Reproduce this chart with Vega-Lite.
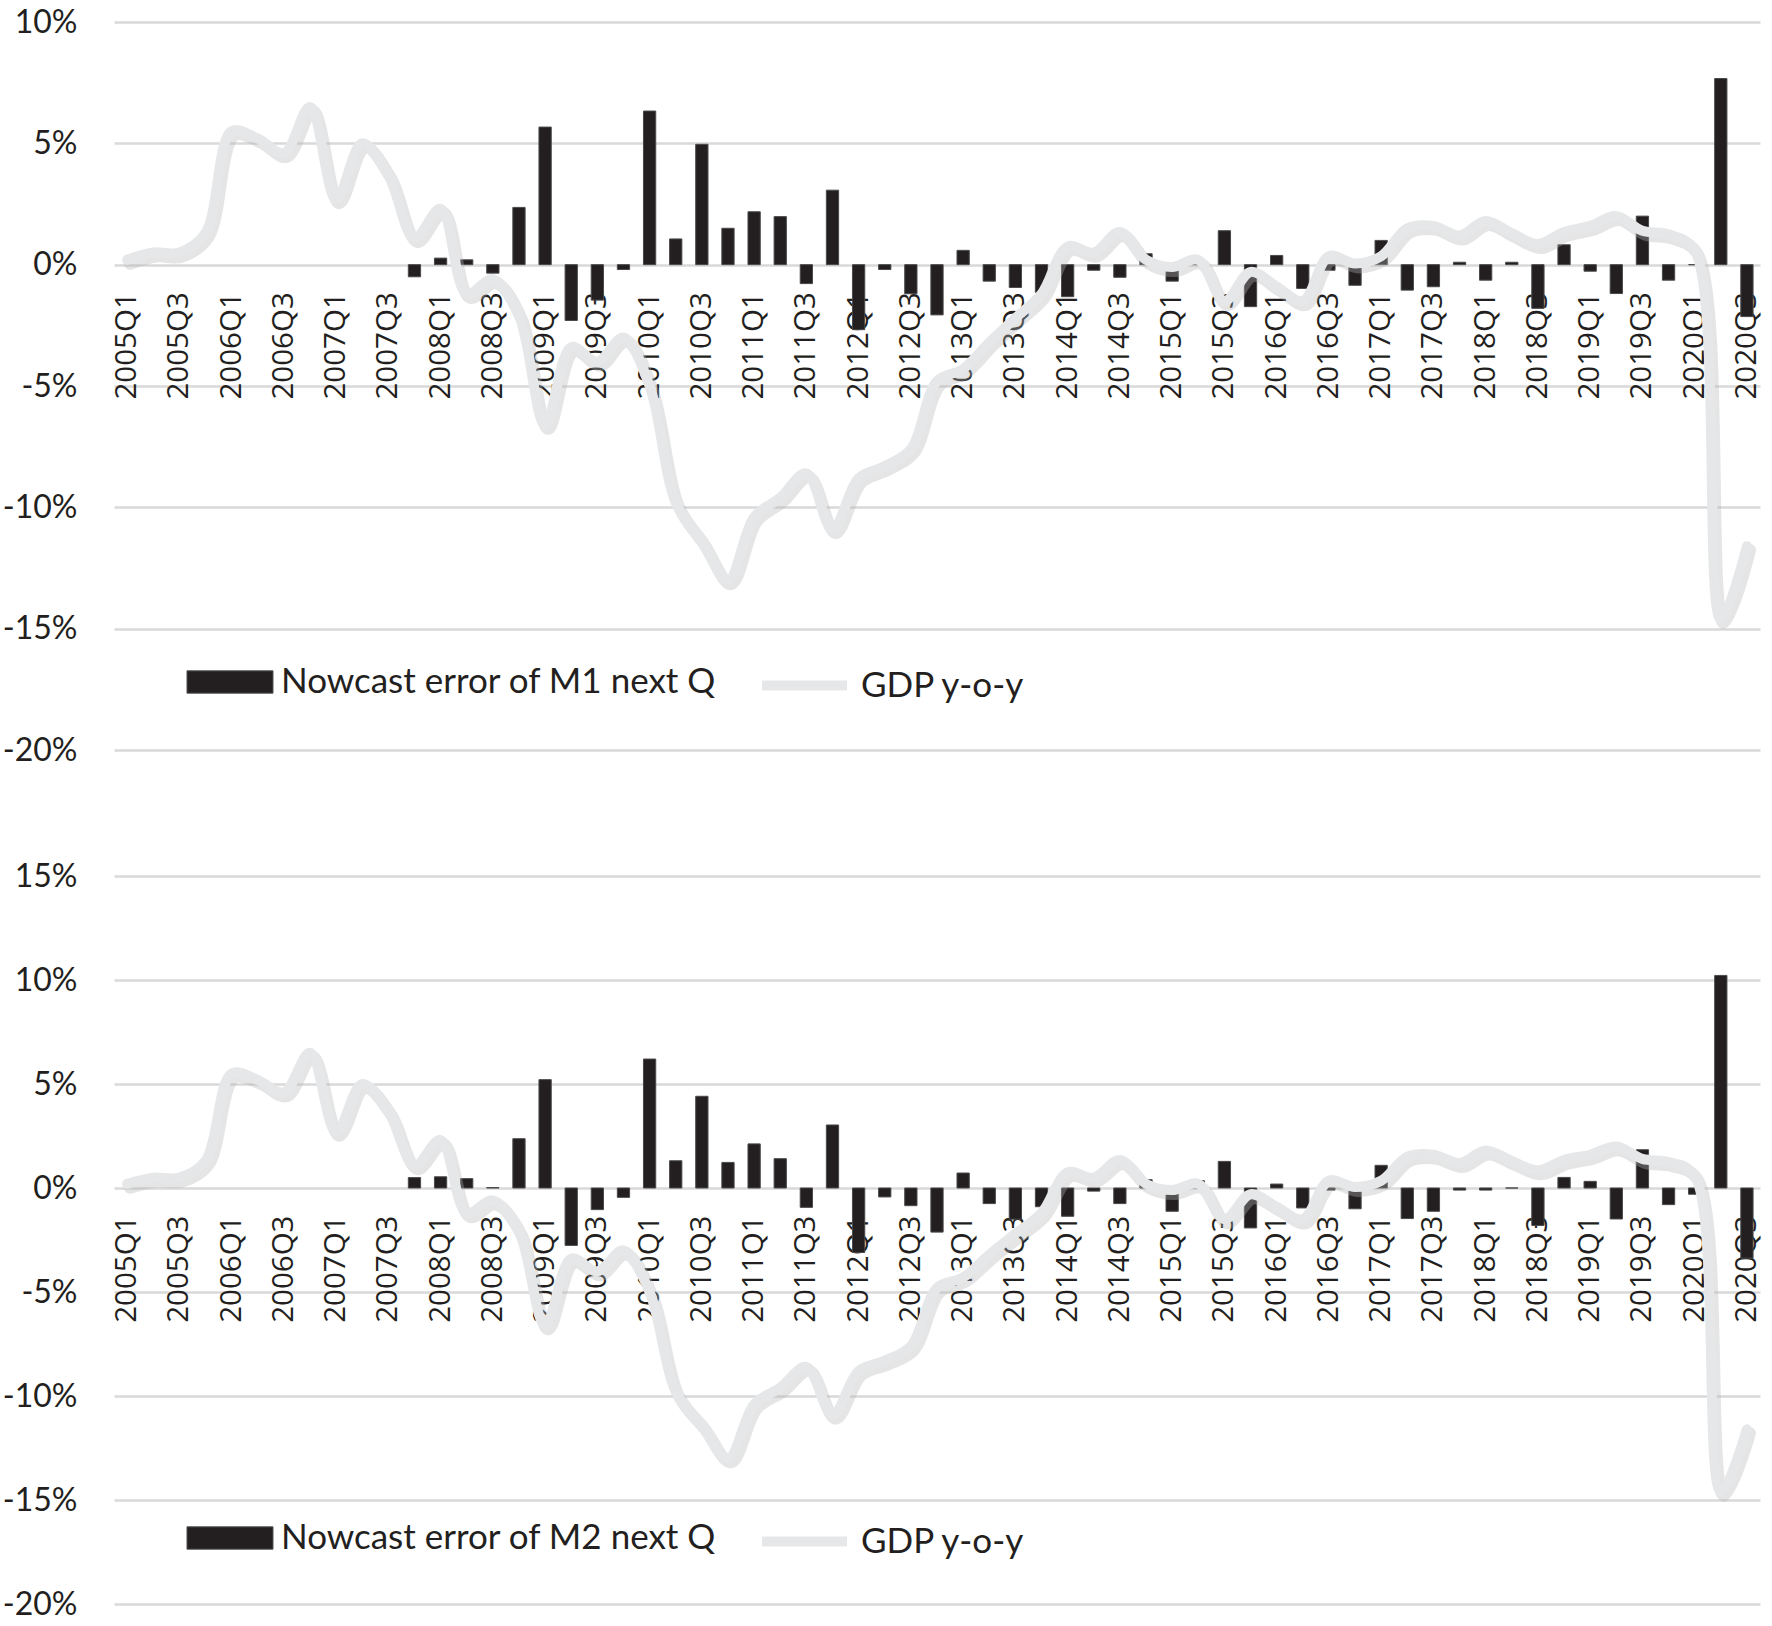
{
  "$schema": "https://vega.github.io/schema/vega-lite/v6.json",
  "padding": {"left": 2, "top": 6, "right": 12, "bottom": 0},
  "background": "white",
  "config": {"view": {"stroke": null}, "font": "Lato"},
  "data": {"values": [
    {"q": "2005Q1", "gdp": 0.2, "m1": null, "m2": null},
    {"q": "2005Q2", "gdp": 0.5, "m1": null, "m2": null},
    {"q": "2005Q3", "gdp": 0.5, "m1": null, "m2": null},
    {"q": "2005Q4", "gdp": 1.3, "m1": null, "m2": null},
    {"q": "2006Q1", "gdp": 5.5, "m1": null, "m2": null},
    {"q": "2006Q2", "gdp": 5.2, "m1": null, "m2": null},
    {"q": "2006Q3", "gdp": 4.6, "m1": null, "m2": null},
    {"q": "2006Q4", "gdp": 6.5, "m1": null, "m2": null},
    {"q": "2007Q1", "gdp": 2.7, "m1": null, "m2": null},
    {"q": "2007Q2", "gdp": 5.0, "m1": null, "m2": null},
    {"q": "2007Q3", "gdp": 3.7, "m1": null, "m2": null},
    {"q": "2007Q4", "gdp": 1.1, "m1": -0.5, "m2": 0.5},
    {"q": "2008Q1", "gdp": 2.3, "m1": 0.27, "m2": 0.54},
    {"q": "2008Q2", "gdp": -1.2, "m1": 0.2, "m2": 0.45},
    {"q": "2008Q3", "gdp": -0.6, "m1": -0.35, "m2": 0.02},
    {"q": "2008Q4", "gdp": -2.1, "m1": 2.36, "m2": 2.37},
    {"q": "2009Q1", "gdp": -6.6, "m1": 5.67, "m2": 5.21},
    {"q": "2009Q2", "gdp": -3.4, "m1": -2.3, "m2": -2.76},
    {"q": "2009Q3", "gdp": -4.0, "m1": -1.46, "m2": -1.04},
    {"q": "2009Q4", "gdp": -3.0, "m1": -0.2, "m2": -0.45},
    {"q": "2010Q1", "gdp": -5.0, "m1": 6.33, "m2": 6.2},
    {"q": "2010Q2", "gdp": -9.8, "m1": 1.06, "m2": 1.31},
    {"q": "2010Q3", "gdp": -11.4, "m1": 4.96, "m2": 4.41},
    {"q": "2010Q4", "gdp": -13.0, "m1": 1.5, "m2": 1.23},
    {"q": "2011Q1", "gdp": -10.4, "m1": 2.18, "m2": 2.12},
    {"q": "2011Q2", "gdp": -9.6, "m1": 1.98, "m2": 1.41},
    {"q": "2011Q3", "gdp": -8.6, "m1": -0.78, "m2": -0.93},
    {"q": "2011Q4", "gdp": -10.9, "m1": 3.07, "m2": 3.03},
    {"q": "2012Q1", "gdp": -8.8, "m1": -2.68, "m2": -3.1},
    {"q": "2012Q2", "gdp": -8.3, "m1": -0.2, "m2": -0.43},
    {"q": "2012Q3", "gdp": -7.6, "m1": -1.2, "m2": -0.85},
    {"q": "2012Q4", "gdp": -4.8, "m1": -2.07, "m2": -2.12},
    {"q": "2013Q1", "gdp": -4.3, "m1": 0.59, "m2": 0.72},
    {"q": "2013Q2", "gdp": -3.2, "m1": -0.68, "m2": -0.75},
    {"q": "2013Q3", "gdp": -2.2, "m1": -0.94, "m2": -1.5},
    {"q": "2013Q4", "gdp": -1.2, "m1": -1.14, "m2": -0.9},
    {"q": "2014Q1", "gdp": 0.75, "m1": -1.32, "m2": -1.36},
    {"q": "2014Q2", "gdp": 0.5, "m1": -0.23, "m2": -0.15},
    {"q": "2014Q3", "gdp": 1.35, "m1": -0.52, "m2": -0.75},
    {"q": "2014Q4", "gdp": 0.2, "m1": 0.45, "m2": 0.4},
    {"q": "2015Q1", "gdp": -0.1, "m1": -0.68, "m2": -1.12},
    {"q": "2015Q2", "gdp": 0.2, "m1": 0.05, "m2": 0.35},
    {"q": "2015Q3", "gdp": -1.5, "m1": 1.4, "m2": 1.28},
    {"q": "2015Q4", "gdp": -0.3, "m1": -1.73, "m2": -1.92},
    {"q": "2016Q1", "gdp": -0.9, "m1": 0.38, "m2": 0.19},
    {"q": "2016Q2", "gdp": -1.5, "m1": -0.98, "m2": -0.96},
    {"q": "2016Q3", "gdp": 0.35, "m1": -0.23, "m2": -0.1},
    {"q": "2016Q4", "gdp": 0.05, "m1": -0.85, "m2": -1.0},
    {"q": "2017Q1", "gdp": 0.35, "m1": 1.0, "m2": 1.09},
    {"q": "2017Q2", "gdp": 1.5, "m1": -1.05, "m2": -1.47},
    {"q": "2017Q3", "gdp": 1.6, "m1": -0.91, "m2": -1.12},
    {"q": "2017Q4", "gdp": 1.2, "m1": 0.1, "m2": -0.1},
    {"q": "2018Q1", "gdp": 1.8, "m1": -0.64, "m2": -0.1},
    {"q": "2018Q2", "gdp": 1.3, "m1": 0.1, "m2": 0.0},
    {"q": "2018Q3", "gdp": 0.85, "m1": -1.8, "m2": -1.8},
    {"q": "2018Q4", "gdp": 1.35, "m1": 0.82, "m2": 0.51},
    {"q": "2019Q1", "gdp": 1.6, "m1": -0.27, "m2": 0.32},
    {"q": "2019Q2", "gdp": 2.0, "m1": -1.19, "m2": -1.49},
    {"q": "2019Q3", "gdp": 1.4, "m1": 2.0, "m2": 1.84},
    {"q": "2019Q4", "gdp": 1.25, "m1": -0.64, "m2": -0.8},
    {"q": "2020Q1", "gdp": 0.6, "m1": 0.0, "m2": -0.3},
    {"q": "2020Q2", "gdp": -14.6, "m1": 7.67, "m2": 10.22},
    {"q": "2020Q3", "gdp": -11.6, "m1": -2.14, "m2": -3.37}
  ]},
  "spacing": 126,
  "bounds": "flush",
  "resolve": {"scale": {"fill": "independent", "stroke": "independent", "y": "independent", "x": "independent"}, "legend": {"fill": "independent", "stroke": "independent"}},
  "vconcat": [
    {
      "width": 1646,
      "height": 728,
      "layer": [
        {
          "mark": {"type": "bar", "stroke": "#4a4a4a", "strokeWidth": 1},
          "encoding": {
            "x": {"field": "q", "type": "ordinal", "sort": null,
              "scale": {"paddingInner": 0.53, "paddingOuter": 0.265, "domain": ["2005Q1","2005Q2","2005Q3","2005Q4","2006Q1","2006Q2","2006Q3","2006Q4","2007Q1","2007Q2","2007Q3","2007Q4","2008Q1","2008Q2","2008Q3","2008Q4","2009Q1","2009Q2","2009Q3","2009Q4","2010Q1","2010Q2","2010Q3","2010Q4","2011Q1","2011Q2","2011Q3","2011Q4","2012Q1","2012Q2","2012Q3","2012Q4","2013Q1","2013Q2","2013Q3","2013Q4","2014Q1","2014Q2","2014Q3","2014Q4","2015Q1","2015Q2","2015Q3","2015Q4","2016Q1","2016Q2","2016Q3","2016Q4","2017Q1","2017Q2","2017Q3","2017Q4","2018Q1","2018Q2","2018Q3","2018Q4","2019Q1","2019Q2","2019Q3","2019Q4","2020Q1","2020Q2","2020Q3"]},
              "axis": {"title": null, "orient": "bottom", "offset": -485.3, "domain": false, "ticks": false, "grid": false,
                "labelAngle": -90, "labelPadding": 27, "labelFont": "Open Sans", "labelFontSize": 29.5, "labelColor": "#231f20", "labelOverlap": false, "labelBound": false,
                "values": ["2005Q1","2005Q3","2006Q1","2006Q3","2007Q1","2007Q3","2008Q1","2008Q3","2009Q1","2009Q3","2010Q1","2010Q3","2011Q1","2011Q3","2012Q1","2012Q3","2013Q1","2013Q3","2014Q1","2014Q3","2015Q1","2015Q3","2016Q1","2016Q3","2017Q1","2017Q3","2018Q1","2018Q3","2019Q1","2019Q3","2020Q1","2020Q3"]}},
            "y": {"field": "m1", "type": "quantitative", "scale": {"domain": [-20, 10], "nice": false, "zero": false},
              "axis": {"title": null, "values": [-20, -15, -10, -5, 0, 5, 10], "labelExpr": "datum.value + '%'", "domain": false, "ticks": false,
                "labelPadding": 37, "labelFont": "Lato", "labelFontSize": 32, "labelColor": "#231f20", "gridColor": "#d9d9d9", "gridWidth": 2.5}},
            "fill": {"datum": "Nowcast error of M1 next Q", "type": "nominal", "scale": {"range": ["#231f20"]},
              "legend": {"title": null, "orient": "none", "legendX": 72, "legendY": 616, "direction": "horizontal", "padding": 0,
                "symbolType": "M-1,-0.26H1V0.26H-1Z", "symbolSize": 7400, "symbolStrokeColor": "#555555", "symbolStrokeWidth": 1,
                "labelFont": "Lato", "labelFontSize": 35, "labelColor": "#231f20", "labelLimit": 1000, "labelOffset": 7}}
          }
        },
        {
          "mark": {"type": "line", "interpolate": "catmull-rom", "stroke": "#b5b5b5", "strokeWidth": 12, "opacity": 0.35, "xOffset": 3, "yOffset": 4, "strokeCap": "round", "strokeJoin": "round"},
          "encoding": {
            "x": {"field": "q", "type": "ordinal", "sort": null},
            "y": {"field": "gdp", "type": "quantitative"}
          }
        },
        {
          "mark": {"type": "line", "interpolate": "catmull-rom", "strokeWidth": 10, "strokeCap": "round", "strokeJoin": "round"},
          "encoding": {
            "x": {"field": "q", "type": "ordinal", "sort": null},
            "y": {"field": "gdp", "type": "quantitative"},
            "stroke": {"datum": "GDP y-o-y", "type": "nominal", "scale": {"range": ["#e6e7e8"]},
              "legend": {"title": null, "orient": "none", "legendX": 643, "legendY": 616, "direction": "horizontal", "padding": 0,
                "symbolType": "stroke", "symbolSize": 7225, "symbolStrokeWidth": 10,
                "labelFont": "Lato", "labelFontSize": 35, "labelColor": "#231f20", "labelLimit": 1000, "labelOffset": 9}}
          }
        }
      ]
    },
    {
      "width": 1646,
      "height": 728,
      "layer": [
        {
          "mark": {"type": "bar", "stroke": "#4a4a4a", "strokeWidth": 1},
          "encoding": {
            "x": {"field": "q", "type": "ordinal", "sort": null,
              "scale": {"paddingInner": 0.53, "paddingOuter": 0.265, "domain": ["2005Q1","2005Q2","2005Q3","2005Q4","2006Q1","2006Q2","2006Q3","2006Q4","2007Q1","2007Q2","2007Q3","2007Q4","2008Q1","2008Q2","2008Q3","2008Q4","2009Q1","2009Q2","2009Q3","2009Q4","2010Q1","2010Q2","2010Q3","2010Q4","2011Q1","2011Q2","2011Q3","2011Q4","2012Q1","2012Q2","2012Q3","2012Q4","2013Q1","2013Q2","2013Q3","2013Q4","2014Q1","2014Q2","2014Q3","2014Q4","2015Q1","2015Q2","2015Q3","2015Q4","2016Q1","2016Q2","2016Q3","2016Q4","2017Q1","2017Q2","2017Q3","2017Q4","2018Q1","2018Q2","2018Q3","2018Q4","2019Q1","2019Q2","2019Q3","2019Q4","2020Q1","2020Q2","2020Q3"]},
              "axis": {"title": null, "orient": "bottom", "offset": -416, "domain": false, "ticks": false, "grid": false,
                "labelAngle": -90, "labelPadding": 27, "labelFont": "Open Sans", "labelFontSize": 29.5, "labelColor": "#231f20", "labelOverlap": false, "labelBound": false,
                "values": ["2005Q1","2005Q3","2006Q1","2006Q3","2007Q1","2007Q3","2008Q1","2008Q3","2009Q1","2009Q3","2010Q1","2010Q3","2011Q1","2011Q3","2012Q1","2012Q3","2013Q1","2013Q3","2014Q1","2014Q3","2015Q1","2015Q3","2016Q1","2016Q3","2017Q1","2017Q3","2018Q1","2018Q3","2019Q1","2019Q3","2020Q1","2020Q3"]}},
            "y": {"field": "m2", "type": "quantitative", "scale": {"domain": [-20, 15], "nice": false, "zero": false},
              "axis": {"title": null, "values": [-20, -15, -10, -5, 0, 5, 10, 15], "labelExpr": "datum.value + '%'", "domain": false, "ticks": false,
                "labelPadding": 37, "labelFont": "Lato", "labelFontSize": 32, "labelColor": "#231f20", "gridColor": "#d9d9d9", "gridWidth": 2.5}},
            "fill": {"datum": "Nowcast error of M2 next Q", "type": "nominal", "scale": {"range": ["#231f20"]},
              "legend": {"title": null, "orient": "none", "legendX": 72, "legendY": 618, "direction": "horizontal", "padding": 0,
                "symbolType": "M-1,-0.26H1V0.26H-1Z", "symbolSize": 7400, "symbolStrokeColor": "#555555", "symbolStrokeWidth": 1,
                "labelFont": "Lato", "labelFontSize": 35, "labelColor": "#231f20", "labelLimit": 1000, "labelOffset": 7}}
          }
        },
        {
          "mark": {"type": "line", "interpolate": "catmull-rom", "stroke": "#b5b5b5", "strokeWidth": 12, "opacity": 0.35, "xOffset": 3, "yOffset": 4, "strokeCap": "round", "strokeJoin": "round"},
          "encoding": {
            "x": {"field": "q", "type": "ordinal", "sort": null},
            "y": {"field": "gdp", "type": "quantitative"}
          }
        },
        {
          "mark": {"type": "line", "interpolate": "catmull-rom", "strokeWidth": 10, "strokeCap": "round", "strokeJoin": "round"},
          "encoding": {
            "x": {"field": "q", "type": "ordinal", "sort": null},
            "y": {"field": "gdp", "type": "quantitative"},
            "stroke": {"datum": "GDP y-o-y", "type": "nominal", "scale": {"range": ["#e6e7e8"]},
              "legend": {"title": null, "orient": "none", "legendX": 643, "legendY": 618, "direction": "horizontal", "padding": 0,
                "symbolType": "stroke", "symbolSize": 7225, "symbolStrokeWidth": 10,
                "labelFont": "Lato", "labelFontSize": 35, "labelColor": "#231f20", "labelLimit": 1000, "labelOffset": 9}}
          }
        }
      ]
    }
  ]
}
